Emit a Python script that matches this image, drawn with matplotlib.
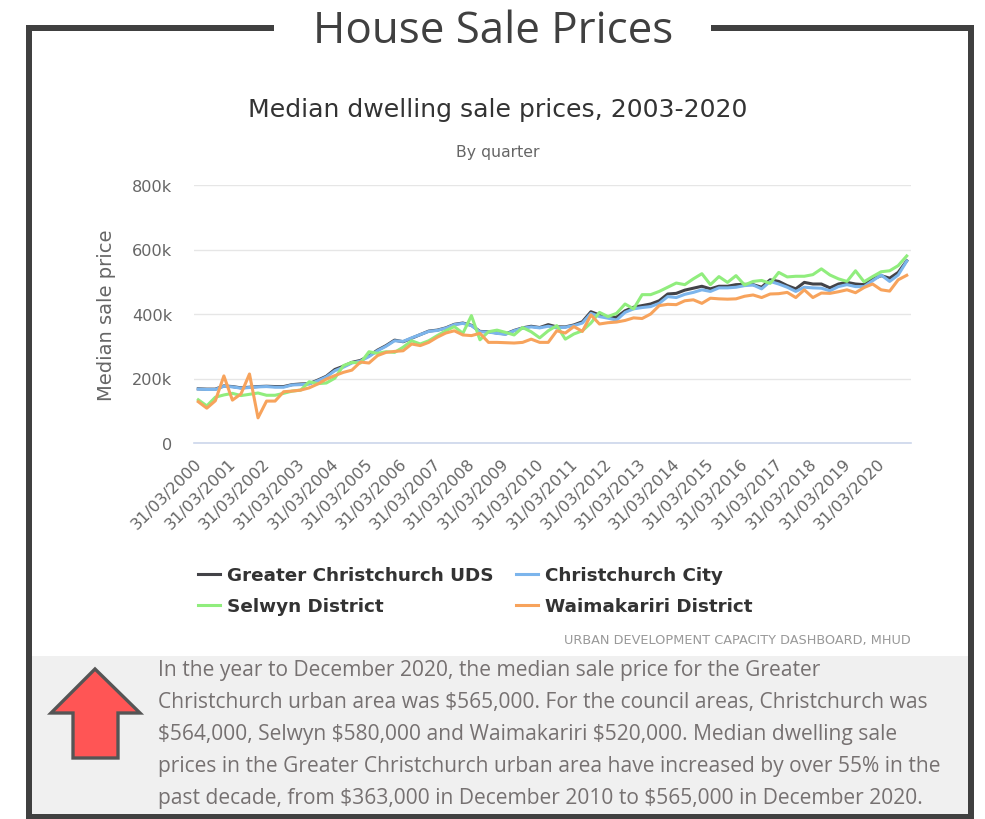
import matplotlib
matplotlib.use("Agg")
import matplotlib.pyplot as plt
from matplotlib.patches import Polygon, Rectangle
from matplotlib.transforms import ScaledTranslation

W, H = 985, 820

years = list(range(2000, 2021))
tick_labels = [f"31/03/{y}" for y in years]

greater_chch = [168,167,167,177,175,171,173,175,176,175,175,181,183,184,195,207,228,238,250,256,270,288,
                302,319,314,325,336,347,350,357,368,372,365,346,345,341,338,349,357,362,358,367,360,
                360,366,376,407,397,390,390,410,421,426,431,441,462,464,474,480,486,478,486,486,491,
                492,491,483,506,501,488,478,498,493,493,481,493,498,493,491,508,519,511,529,565]
chch_city = [167,166,166,176,174,170,172,174,175,173,173,180,181,183,193,205,224,235,248,254,268,286,
             300,317,315,326,336,346,349,356,367,371,364,345,344,340,337,348,356,360,357,362,357,
             359,364,372,402,392,387,381,405,416,420,423,433,454,451,461,467,475,470,481,481,483,
             488,490,478,501,493,483,470,483,481,480,472,485,491,485,485,503,521,501,521,564]
selwyn = [134,115,142,149,154,147,151,155,148,148,154,161,164,190,184,186,201,240,250,248,283,278,
          283,281,297,317,307,317,333,348,361,340,395,320,345,350,343,335,358,345,326,348,364,
          322,338,348,372,405,392,402,431,416,460,460,470,483,496,491,509,525,491,516,498,519,
          490,501,504,495,529,515,517,517,522,540,521,509,501,534,500,516,531,534,550,580]
waimakariri = [128,108,131,208,133,152,214,78,130,130,159,161,164,171,183,198,209,219,226,251,248,271,
               281,284,286,307,302,312,328,341,348,335,333,340,312,312,311,310,312,322,312,312,348,
               341,361,346,397,369,373,375,380,388,386,400,426,430,429,441,444,433,449,447,446,447,
               455,459,451,462,463,467,451,475,451,465,464,469,475,466,482,493,475,471,506,520]

series_names = ["Greater Christchurch UDS", "Christchurch City", "Selwyn District", "Waimakariri District"]
series_values = [greater_chch, chch_city, selwyn, waimakariri]
series_colors = ["#434348", "#7cb5ec", "#90ed7d", "#f7a35c"]

y_ticks = [0, 200, 400, 600, 800]
y_tick_labels = ["0", "200k", "400k", "600k", "800k"]

body_lines = [
    "In the year to December 2020, the median sale price for the Greater",
    "Christchurch urban area was $565,000. For the council areas, Christchurch was",
    "$564,000, Selwyn $580,000 and Waimakariri $520,000. Median dwelling sale",
    "prices in the Greater Christchurch urban area have increased by over 55% in the",
    "past decade, from $363,000 in December 2010 to $565,000 in December 2020.",
]

fig = plt.figure(figsize=(W / 100, H / 100), dpi=100, facecolor="white")

# page layer in pixel coordinates
bg = fig.add_axes([0, 0, 1, 1])
bg.set_xlim(0, W)
bg.set_ylim(H, 0)
bg.axis("off")

frame = "#404040"
bg.add_patch(Rectangle((31, 657), 937, 159, fc="#f0f0f0", ec="none"))
lw = 6 * 0.72
bg.plot([274, 28.5, 28.5, 970.5, 970.5, 711], [28.5, 28.5, 818, 818, 28.5, 28.5],
        color=frame, lw=lw, solid_joinstyle="miter", solid_capstyle="butt", clip_on=False)
bg.add_patch(Polygon([(95, 670), (51, 714), (73, 714), (73, 759), (118, 759), (118, 714), (140, 714)],
                     closed=True, fc="#ff5555", ec="#555555", lw=2.4, joinstyle="miter"))

bg.text(493, 32, "House Sale Prices", ha="center", va="center", fontsize=31.6,
        family="Open Sans", color="#404040")
bg.text(498, 110, "Median dwelling sale prices, 2003-2020", ha="center", va="center",
        fontsize=18.1, family="DejaVu Sans", color="#333333")
bg.text(498, 152, "By quarter", ha="center", va="center", fontsize=11.3,
        family="DejaVu Sans", color="#666666")
bg.text(106, 315, "Median sale price", rotation=90, ha="center", va="center",
        fontsize=14, family="DejaVu Sans", color="#666666")
bg.text(911, 641, "URBAN DEVELOPMENT CAPACITY DASHBOARD, MHUD", ha="right", va="center",
        fontsize=9.3, family="DejaVu Sans", color="#999999")

for i, line in enumerate(body_lines):
    bg.text(158, 671 + 31.8 * i, line, ha="left", va="center", fontsize=15.1,
            family="Open Sans", color="#767171", parse_math=False)

# chart
left, right, top, bottom = 194, 911, 186, 444
ax = fig.add_axes([left / W, 1 - bottom / H, (right - left) / W, (bottom - top) / H])
ax.patch.set_alpha(0)
xs = list(range(len(greater_chch)))
handles = []
for name, vals, col in zip(series_names, series_values, series_colors):
    h, = ax.plot(xs, vals, color=col, lw=2.2, label=name, solid_joinstyle="round", clip_on=False)
    handles.append(h)
ax.set_xlim(-0.5, len(xs) - 0.5)
ax.set_ylim(0, 800)
ax.set_yticks(y_ticks, y_tick_labels)
ax.set_xticks(xs[::4], tick_labels)
ax.grid(axis="y", color="#e6e6e6", lw=1)
ax.set_axisbelow(True)
for s in ["top", "left", "right"]:
    ax.spines[s].set_visible(False)
ax.spines["bottom"].set_color("#ccd6eb")
ax.spines["bottom"].set_linewidth(1.2)
ax.tick_params(axis="y", length=0, pad=15.5, labelsize=11.6, labelcolor="#666666")
ax.tick_params(axis="x", length=0, pad=8.5, labelsize=11.6, labelcolor="#666666")
shift = ScaledTranslation(-4 / 100, 0, fig.dpi_scale_trans)
for t in ax.get_xticklabels():
    t.set_rotation(45)
    t.set_ha("right")
    t.set_rotation_mode("anchor")
    t.set_transform(t.get_transform() + shift)

order = [0, 2, 1, 3]
leg = ax.legend(handles=[handles[i] for i in order], ncol=2, frameon=False, loc="upper left",
                bbox_to_anchor=((198 - left) / (right - left), 1 - (567 - top) / (bottom - top)),
                borderaxespad=0, borderpad=0, handlelength=1.2, handletextpad=0.4,
                columnspacing=1.2, labelspacing=0.72,
                prop={"family": "DejaVu Sans", "weight": "bold", "size": 13.2})
for t in leg.get_texts():
    t.set_color("#333333")

fig.savefig("out.png", dpi=100)
